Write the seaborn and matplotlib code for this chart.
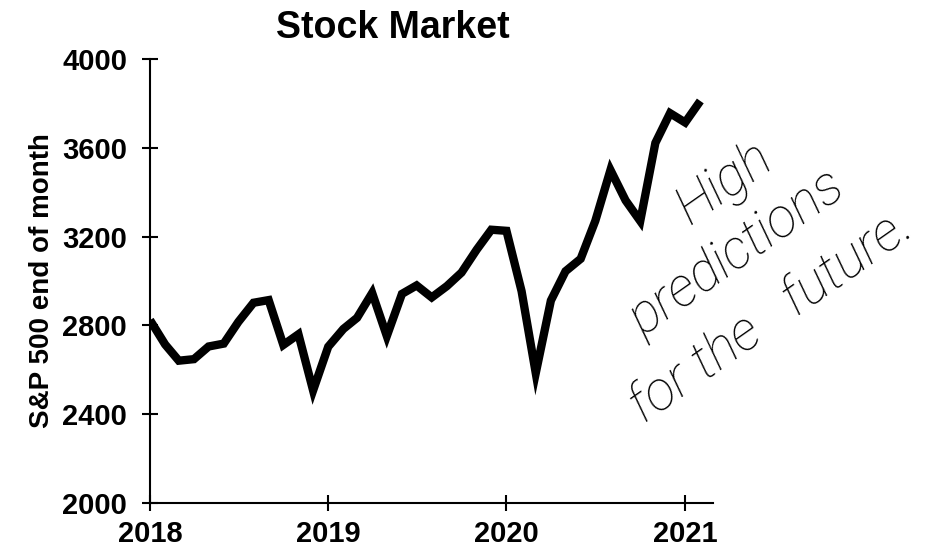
import pandas as pd
import seaborn as sns
import matplotlib.pyplot as plt
import matplotlib.dates as mdates

sns.set_style('ticks')
plt.rcParams['font.family'] = ['Liberation Sans', 'DejaVu Sans']
plt.rcParams['text.color'] = 'black'
plt.rcParams['axes.labelcolor'] = 'black'
plt.rcParams['xtick.color'] = 'black'
plt.rcParams['ytick.color'] = 'black'

# S&P 500 month-end closes, Jan 2018 .. Feb 2021
months = pd.date_range('2018-01-01', periods=38, freq='MS')
sp500 = [2824, 2714, 2641, 2648, 2705, 2718, 2816, 2902, 2914, 2712, 2760, 2507,
         2704, 2784, 2834, 2946, 2752, 2942, 2980, 2926, 2977, 3038, 3141, 3231,
         3226, 2954, 2585, 2912, 3044, 3100, 3271, 3500, 3363, 3270, 3622, 3756,
         3714, 3811]
year_ticks = ['2018', '2019', '2020', '2021']
y_ticks = [2000, 2400, 2800, 3200, 3600, 4000]

df = pd.DataFrame({'month': months, 'close': sp500})

fig = plt.figure(figsize=(9.41, 5.51), dpi=100)
ax = fig.add_axes([150 / 941, 1 - 503 / 551, (713 - 150) / 941, (503 - 59) / 551])

sns.lineplot(x='month', y='close', data=df, ax=ax, color='black', linewidth=6,
             solid_joinstyle='miter', solid_capstyle='butt')

ax.set_ylim(2000, 4000)
ax.set_xlim(pd.Timestamp('2018-01-01'), pd.Timestamp('2021-02-27'))
ax.set_yticks(y_ticks)
ax.set_xticks([pd.Timestamp(y + '-01-01') for y in year_ticks])
ax.xaxis.set_major_formatter(mdates.DateFormatter('%Y'))
ax.tick_params(direction='inout', length=11, width=1.5, labelsize=21)
ax.tick_params(axis='y', pad=11)
ax.tick_params(axis='x', pad=7)
for lab in ax.get_xticklabels() + ax.get_yticklabels():
    lab.set_fontweight('bold')

for s in ['top', 'right']:
    ax.spines[s].set_visible(False)
for s in ['left', 'bottom']:
    ax.spines[s].set_linewidth(1.5)
    ax.spines[s].set_color('black')

ax.set_xlabel('')
ax.set_ylabel('S&P 500 end of month', fontsize=20, fontweight='bold', labelpad=5)
fig.text(393 / 941, 1 - 28 / 551, 'Stock Market', fontsize=27, fontweight='bold',
         ha='center', va='center')

# handwritten note
hand = dict(family=['Roboto', 'DejaVu Sans'], style='italic', weight='light',
            fontsize=39, color='black', ha='center', va='baseline', rotation=35,
            rotation_mode='anchor')
fig.text(733 / 941, 1 - 195 / 551, 'High', **hand)
fig.text(745 / 941, 1 - 265 / 551, 'predictions', **hand)
fig.text(780 / 941, 1 - 328 / 551, 'for the   future.', **hand)

plt.savefig('out.png', dpi=100)
plt.close()
